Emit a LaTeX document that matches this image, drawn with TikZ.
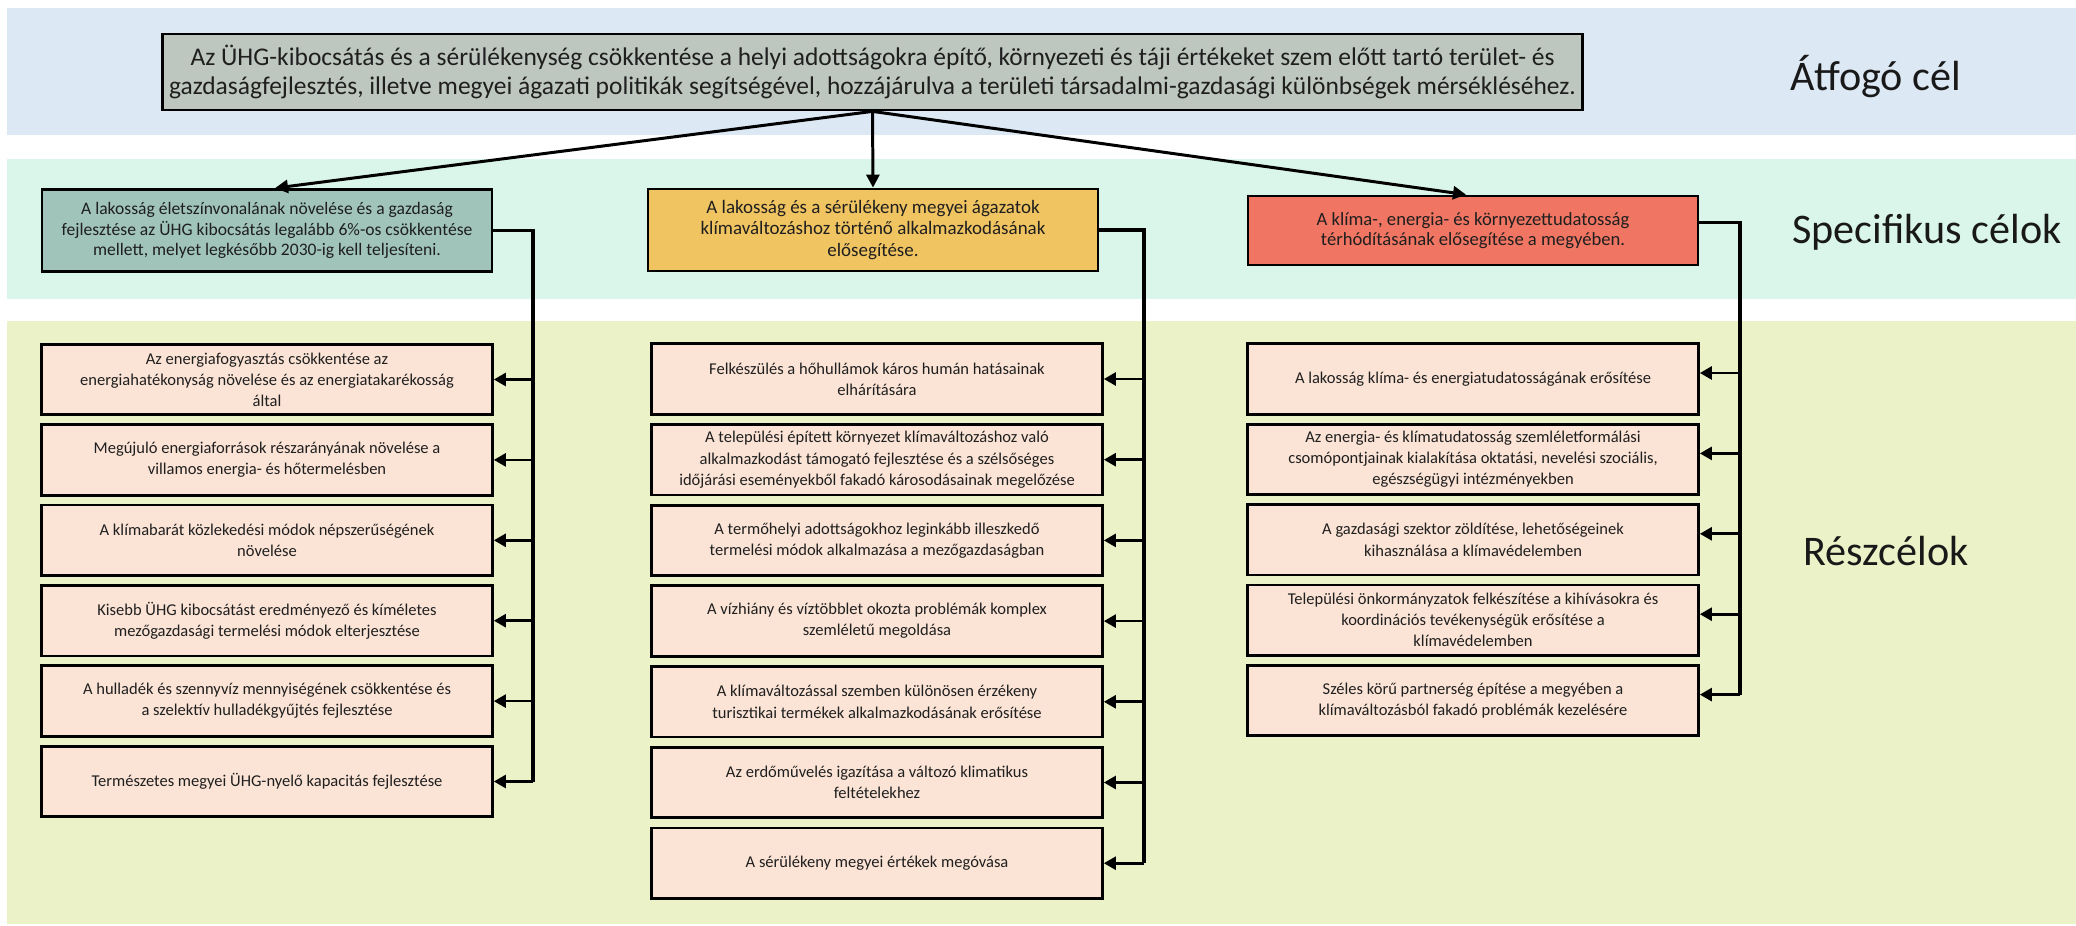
\documentclass[tikz,border=0pt]{standalone}
\usepackage{fontspec}
\setmainfont{Carlito}
\usetikzlibrary{arrows.meta}

\definecolor{bandblue}{RGB}{221,232,245}
\definecolor{bandmint}{RGB}{218,246,234}
\definecolor{bandlime}{RGB}{235,242,199}
\definecolor{goalgray}{RGB}{190,199,191}
\definecolor{spteal}{RGB}{160,196,186}
\definecolor{spamber}{RGB}{241,196,98}
\definecolor{spred}{RGB}{240,117,98}
\definecolor{subpeach}{RGB}{251,228,214}

\tikzset{
  goalbox/.style={draw, line width=1.6pt, fill=goalgray, minimum width=28.42cm, minimum height=1.52cm,
    inner xsep=0.5pt, align=center, text=black!88, font=\fontsize{14.5}{16.5}\selectfont},
  specbox/.style={draw, line width=1.6pt, minimum width=9cm, minimum height=1.64cm,
    align=center, text=black!88, font=\fontsize{10}{11.6}\selectfont},
  subbox/.style={draw, line width=1.6pt, fill=subpeach, minimum width=9.02cm, minimum height=1.41cm,
    inner xsep=2pt, align=center, text=black!88, font=\fontsize{9.4}{12}\selectfont},
  levellabel/.style={anchor=base, text=black!90, font=\fontsize{24}{28}\selectfont},
  goalarrow/.style={line width=1.7pt, -{Triangle[length=0.26cm,width=0.26cm]}},
  feed/.style={line width=1.8pt},
  subarrow/.style={line width=1.5pt, -{Triangle[length=0.24cm,width=0.26cm]}}
}

\begin{document}
\begin{tikzpicture}[x=0.02cm, y=-0.02cm]
\useasboundingbox (0,0) rectangle (2076,926);

% three levels
\fill[bandblue] (7,8) rectangle (2076,135);
\fill[bandmint] (7,159) rectangle (2076,299);
\fill[bandlime] (7,321) rectangle (2076,924);

\node[levellabel] (l1) at (1876,91) {Átfogó cél};
\node[levellabel] (l2) at (1927,243) {Specifikus célok};
\node[levellabel] (l3) at (1886,565) {Részcélok};

% overall goal
\node[goalbox] (goal) at (872.5,72) {Az ÜHG-kibocsátás és a sérülékenység csökkentése a helyi adottságokra építő, környezeti és táji értékeket szem előtt tartó terület- és\\gazdaságfejlesztés, illetve megyei ágazati politikák segítségével, hozzájárulva a területi társadalmi-gazdasági különbségek mérsékléséhez.};

% specific goals
\node[specbox, fill=spteal] (s1) at (267,230.5) {A lakosság életszínvonalának növelése és a gazdaság\\fejlesztése az ÜHG kibocsátás legalább 6\%-os csökkentése\\mellett, melyet legkésőbb 2030-ig kell teljesíteni.};
\node[specbox, fill=spamber, font=\fontsize{10.8}{12.4}\selectfont] (s2) at (873,230) {A lakosság és a sérülékeny megyei ágazatok\\klímaváltozáshoz történő alkalmazkodásának\\elősegítése.};
\node[specbox, fill=spred, minimum height=1.38cm, font=\fontsize{10.6}{11.2}\selectfont] (s3) at (1473,230.5) {A klíma-, energia- és környezettudatosság\\térhódításának elősegítése a megyében.};

\draw[goalarrow] (goal.south) -- ([xshift=0.16cm]s1.north);
\draw[goalarrow] (goal.south) -- (s2.north);
\draw[goalarrow] (goal.south) -- ([xshift=-0.14cm]s3.north);

% sub goals, one column per specific goal
\foreach \t [count=\i] in {
  {Az energiafogyasztás csökkentése az\\energiahatékonyság növelése és az energiatakarékosság\\által},
  {Megújuló energiaforrások részarányának növelése a\\villamos energia- és hőtermelésben},
  {A klímabarát közlekedési módok népszerűségének\\növelése},
  {Kisebb ÜHG kibocsátást eredményező és kíméletes\\mezőgazdasági termelési módok elterjesztése},
  {A hulladék és szennyvíz mennyiségének csökkentése és\\a szelektív hulladékgyűjtés fejlesztése},
  {Természetes megyei ÜHG-nyelő kapacitás fejlesztése}}
  \node[subbox] (a\i) at (267,{379.5+80.4*(\i-1)}) {\t};

\foreach \t [count=\i] in {
  {Felkészülés a hőhullámok káros humán hatásainak\\elhárítására},
  {A települési épített környezet klímaváltozáshoz való\\alkalmazkodást támogató fejlesztése és a szélsőséges\\időjárási eseményekből fakadó károsodásainak megelőzése},
  {A termőhelyi adottságokhoz leginkább illeszkedő\\termelési módok alkalmazása a mezőgazdaságban},
  {A vízhiány és víztöbblet okozta problémák komplex\\szemléletű megoldása},
  {A klímaváltozással szemben különösen érzékeny\\turisztikai termékek alkalmazkodásának erősítése},
  {Az erdőművelés igazítása a változó klimatikus\\feltételekhez},
  {A sérülékeny megyei értékek megóvása}}
  \node[subbox] (b\i) at (877,{379+80.7*(\i-1)}) {\t};

\foreach \t [count=\i] in {
  {A lakosság klíma- és energiatudatosságának erősítése},
  {Az energia- és klímatudatosság szemléletformálási\\csomópontjainak kialakítása oktatási, nevelési szociális,\\egészségügyi intézményekben},
  {A gazdasági szektor zöldítése, lehetőségeinek\\kihasználása a klímavédelemben},
  {Települési önkormányzatok felkészítése a kihívásokra és\\koordinációs tevékenységük erősítése a\\klímavédelemben},
  {Széles körű partnerség építése a megyében a\\klímaváltozásból fakadó problémák kezelésére}}
  \node[subbox] (c\i) at (1473,{379+80.4*(\i-1)}) {\t};

% feeders
\coordinate (k1) at (533,0);
\coordinate (k2) at (1144,0);
\coordinate (k3) at (1740,0);

\draw[feed] (s1.east) -| (a6.east -| k1);
\foreach \i in {1,...,6}
  \draw[subarrow] (a\i.east -| k1) -- (a\i.east);

\draw[feed] (s2.east) -| (b7.east -| k2);
\foreach \i in {1,...,7}
  \draw[subarrow] (b\i.east -| k2) -- (b\i.east);

\foreach \i in {1,...,5}{
  \coordinate (e\i) at ([yshift=0.12cm]c\i.east);
  \draw[subarrow] (e\i -| k3) -- (e\i);
}
\draw[feed] ([yshift=0.16cm]s3.east) -| (e5 -| k3);
\end{tikzpicture}
\end{document}
